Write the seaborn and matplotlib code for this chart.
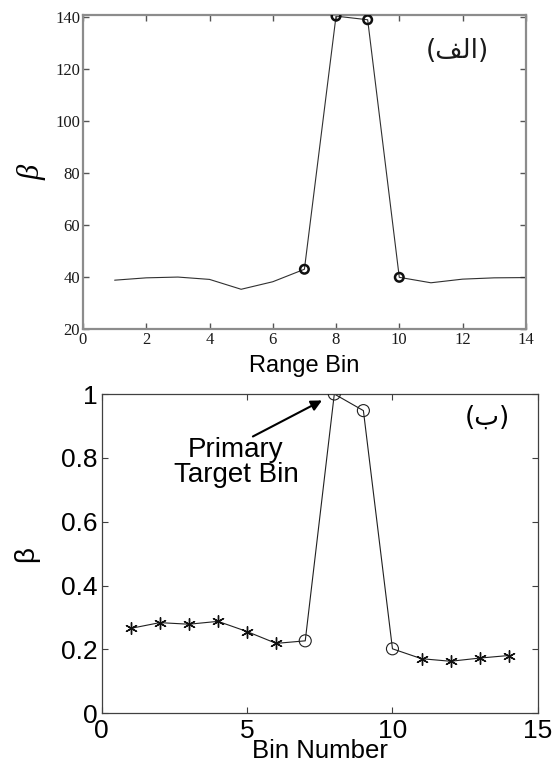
import matplotlib.pyplot as plt
import seaborn as sns

# (a) Range bin profile
range_bins = [1, 2, 3, 4, 5, 6, 7, 8, 9, 10, 11, 12, 13, 14]
beta_range = [38.8, 39.7, 40.0, 39.1, 35.3, 38.2, 43.0, 140.4, 139.0, 39.9, 37.8, 39.2, 39.7, 39.8]
range_circle_bins = [7, 8, 9, 10]

# (b) Bin number profile
bin_number = [1, 2, 3, 4, 5, 6, 7, 8, 9, 10, 11, 12, 13, 14]
beta_bin = [0.266, 0.284, 0.279, 0.288, 0.256, 0.219, 0.227, 1.0, 0.948, 0.202, 0.171, 0.163, 0.173, 0.181]
bin_circle_bins = [7, 8, 9, 10]

top_xticks = [0, 2, 4, 6, 8, 10, 12, 14]
top_yticks = [20, 40, 60, 80, 100, 120, 140]
bot_xticks = [0, 5, 10, 15]
bot_yticks = [0, 0.2, 0.4, 0.6, 0.8, 1]
bot_yticklabels = ['0', '0.2', '0.4', '0.6', '0.8', '1']

# Arabic labels in visual order (presentation forms): "(الف)" and "(ب)"
label_a = '(\ufed2\ufedf\ufe8d)'
label_b = '(\ufe8f)'

sns.set_style('ticks')
plt.rcParams['font.family'] = ['Liberation Sans', 'DejaVu Sans']
plt.rcParams['text.color'] = 'black'
plt.rcParams['axes.labelcolor'] = 'black'

fig = plt.figure(figsize=(5.57, 7.67), dpi=100)
fig.patch.set_facecolor('white')

# ---- top panel ----
ax1 = fig.add_axes([0.149, 0.571, 0.795, 0.409])
sns.lineplot(x=range_bins, y=beta_range, color='#303030', linewidth=0.8, ax=ax1)
sel = [b in range_circle_bins for b in range_bins]
sns.scatterplot(x=[b for b, s in zip(range_bins, sel) if s],
                y=[v for v, s in zip(beta_range, sel) if s],
                marker='o', s=38, facecolor='none', edgecolor='#101010',
                linewidth=1.8, ax=ax1, zorder=3)
ax1.set_xlim(0, 14)
ax1.set_ylim(20, 140.7)
ax1.set_xticks(top_xticks)
ax1.set_yticks(top_yticks)
ax1.tick_params(direction='in', top=True, right=True, length=4, width=1,
                color='#555555', labelsize=12, labelcolor='#1a1a1a',
                labelfontfamily='Liberation Serif', pad=2)
for sp in ax1.spines.values():
    sp.set_visible(True)
    sp.set_color('#8c8c8c')
    sp.set_linewidth(1.6)
ax1.set_xlabel('Range Bin', fontsize=17, labelpad=5)
ax1.set_ylabel('β', fontsize=22, family='Liberation Serif', style='italic', labelpad=6)
ax1.text(0.845, 0.885, label_a, transform=ax1.transAxes, fontsize=19,
         family=['DejaVu Sans'], ha='center', va='center', color='#1a1a1a')

# ---- bottom panel ----
ax2 = fig.add_axes([0.1826, 0.070, 0.783, 0.4163])
sns.lineplot(x=bin_number, y=beta_bin, color='#202020', linewidth=0.8, ax=ax2)
sel2 = [b in bin_circle_bins for b in bin_number]
sns.scatterplot(x=[b for b, s in zip(bin_number, sel2) if not s],
                y=[v for v, s in zip(beta_bin, sel2) if not s],
                marker=(6, 2, 0), s=70, color='#101010', linewidth=1.0,
                ax=ax2, zorder=3)
sns.scatterplot(x=[b for b, s in zip(bin_number, sel2) if s],
                y=[v for v, s in zip(beta_bin, sel2) if s],
                marker='o', s=75, facecolor='none', edgecolor='#202020',
                linewidth=0.8, ax=ax2, zorder=3)
ax2.set_xlim(0, 15)
ax2.set_ylim(0, 1)
ax2.set_xticks(bot_xticks)
ax2.set_yticks(bot_yticks)
ax2.set_yticklabels(bot_yticklabels)
ax2.tick_params(direction='in', top=True, right=True, length=4, width=0.8,
                color='#404040', labelsize=19, labelcolor='black')
ax2.tick_params(axis='x', pad=4)
ax2.tick_params(axis='y', pad=3)
for sp in ax2.spines.values():
    sp.set_visible(True)
    sp.set_color('#404040')
    sp.set_linewidth(0.9)
ax2.set_xlabel('Bin Number', fontsize=18.5, labelpad=-3)
ax2.set_ylabel('β', fontsize=20, labelpad=16)
ax2.text(0.885, 0.925, label_b, transform=ax2.transAxes, fontsize=19,
         family=['DejaVu Sans'], ha='center', va='center')

peak_x = bin_number[beta_bin.index(max(beta_bin))]
ax2.annotate('', xy=(peak_x, max(beta_bin)), xytext=(5.2, 0.867),
             arrowprops=dict(arrowstyle='-|>', color='black', lw=1.5,
                             mutation_scale=16, shrinkA=0, shrinkB=10))
ax2.text(4.62, 0.785, 'Primary\nTarget Bin', fontsize=20, ha='center',
         va='center', linespacing=0.95, color='black')

fig.savefig('out.png', dpi=100, facecolor='white')
